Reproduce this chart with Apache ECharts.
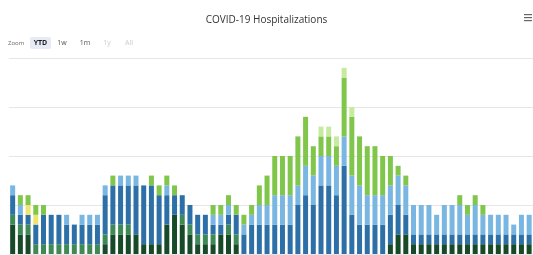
<!DOCTYPE html>
<html>
<head>
<meta charset="utf-8">
<script src="https://cdn.jsdelivr.net/npm/echarts@6/dist/echarts.min.js"></script>
<style>
  html, body { margin: 0; padding: 0; background: #fff; }
  #chart { width: 533px; height: 255px; }
</style>
</head>
<body>
<div id="chart"></div>
<script>
// weeks shown on the (cropped) x axis
const weeks = Array.from({ length: 68 }, (_, i) => 'W' + (i + 1));

// stacked values, bottom to top
const darkGreen = [3,2,2,0,0,0,0,0,0,0, 0,0,1,2,2,2,2,1,1,1, 3,4,3,2,1,1,1,2,2,1, 0,0,0,0,0,0,0,0,0,0, 0,0,0,0,0,0,0,0,0,1, 2,2,1,1,1,1,1,1,1,1, 1,1,1,1,1,1,1,1];
const midGreen  = [1,1,1,1,1,1,1,1,1,1, 1,1,1,1,1,1,0,0,0,0, 0,0,1,1,1,1,1,0,1,1, 0,0,0,0,0,0,0,0,0,0, 0,0,0,0,0,0,0,0,0,0, 0,0,0,0,0,0,0,0,0,0, 0,0,0,0,0,0,0,0];
const darkBlue  = [2,1,1,2,3,3,3,2,2,2, 2,2,4,4,4,4,5,6,6,5, 3,2,2,2,2,2,1,1,1,2, 2,3,3,3,3,3,3,5,6,5, 7,7,6,9,4,3,3,3,3,3, 3,2,1,1,1,1,1,1,1,1, 1,1,1,1,1,1,1,1];
const lightBlue = [1,1,0,0,0,0,0,1,0,1, 1,1,1,0,1,1,1,0,0,0, 1,0,0,0,0,0,1,1,1,0, 1,1,2,2,3,3,3,2,3,3, 3,3,3,3,4,4,3,3,3,3, 3,3,3,3,3,2,3,3,3,2, 3,2,2,2,2,1,2,2];
const yellow    = [0,0,1,1,0,0,0,0,0,0, 0,0,0,0,0,0,0,0,0,0, 0,0,0,0,0,0,0,0,0,0, 0,0,0,0,0,0,0,0,0,0, 0,0,0,0,0,0,0,0,0,0, 0,0,0,0,0,0,0,0,0,0, 0,0,0,0,0,0,0,0];
const lime      = [0,1,1,1,1,0,0,0,0,0, 0,0,0,1,0,0,0,0,1,1, 1,1,0,0,0,0,1,1,1,1, 1,1,2,3,4,4,4,5,5,3, 2,2,2,6,6,5,5,5,4,3, 1,1,0,0,0,0,0,0,1,1, 1,1,0,0,0,0,0,0];
const paleLime  = [0,0,0,0,0,0,0,0,0,0, 0,0,0,0,0,0,0,0,0,0, 0,0,0,0,0,0,0,0,0,0, 0,0,0,0,0,0,0,0,0,0, 1,1,1,1,1,0,0,0,0,0, 0,0,0,0,0,0,0,0,0,0, 0,0,0,0,0,0,0,0];

const yTicks = [0, 5, 10, 15, 20];
const zoomButtons = ['YTD', '1w', '1m', '1y', 'All'];

const stack = [
  { name: 'darkGreen', data: darkGreen, color: '#174a28' },
  { name: 'midGreen', data: midGreen, color: '#3e8a57' },
  { name: 'darkBlue', data: darkBlue, color: '#2d70a8' },
  { name: 'lightBlue', data: lightBlue, color: '#79b6e2' },
  { name: 'yellow', data: yellow, color: '#efe46c' },
  { name: 'lime', data: lime, color: '#7fc64a' },
  { name: 'paleLime', data: paleLime, color: '#c6ea9e' }
];

const chart = echarts.init(document.getElementById('chart'));

const btnX = [30, 55, 78, 101, 122];
const btnW = [21, 14, 14, 12, 14];
const buttons = [];
zoomButtons.forEach((label, i) => {
  if (i === 0) {
    buttons.push({
      type: 'rect', shape: { x: btnX[i], y: 37, width: btnW[i], height: 12, r: 2 },
      style: { fill: '#e6ebf5' }
    });
  }
  buttons.push({
    type: 'text', x: btnX[i] + btnW[i] / 2, y: 43,
    style: {
      text: label, align: 'center', verticalAlign: 'middle',
      font: (i === 0 ? 'bold ' : '') + '7px "Open Sans", sans-serif',
      fill: i === 0 ? '#1a1a1a' : (i < 3 ? '#555' : '#ccc')
    }
  });
});

const option = {
  animation: false,
  title: {
    text: 'COVID-19 Hospitalizations',
    left: 'center',
    top: 10,
    textStyle: { fontSize: 10, fontWeight: 'normal', color: '#333', fontFamily: '"Open Sans", sans-serif' }
  },
  graphic: [
    {
      type: 'text', x: 8, y: 43,
      style: { text: 'Zoom', verticalAlign: 'middle', font: '6px "Open Sans", sans-serif', fill: '#666' }
    },
    ...buttons,
    { type: 'rect', shape: { x: 524, y: 14, width: 8, height: 1.2 }, style: { fill: '#666' } },
    { type: 'rect', shape: { x: 524, y: 17, width: 8, height: 1.2 }, style: { fill: '#666' } },
    { type: 'rect', shape: { x: 524, y: 20, width: 8, height: 1.2 }, style: { fill: '#666' } }
  ],
  grid: { left: 8.8, right: -3.2, top: 58, bottom: 1 },
  xAxis: {
    type: 'category',
    data: weeks,
    axisLine: { show: false },
    axisTick: { show: false },
    axisLabel: { show: false }
  },
  yAxis: {
    type: 'value',
    min: yTicks[0],
    max: yTicks[yTicks.length - 1],
    interval: yTicks[1] - yTicks[0],
    axisLabel: { show: false },
    splitLine: { lineStyle: { color: '#e6e6e6' } }
  },
  series: stack.map(s => ({
    name: s.name,
    type: 'bar',
    stack: 'total',
    barWidth: 5,
    data: s.data,
    itemStyle: { color: s.color }
  }))
};

chart.setOption(option);
</script>
</body>
</html>
